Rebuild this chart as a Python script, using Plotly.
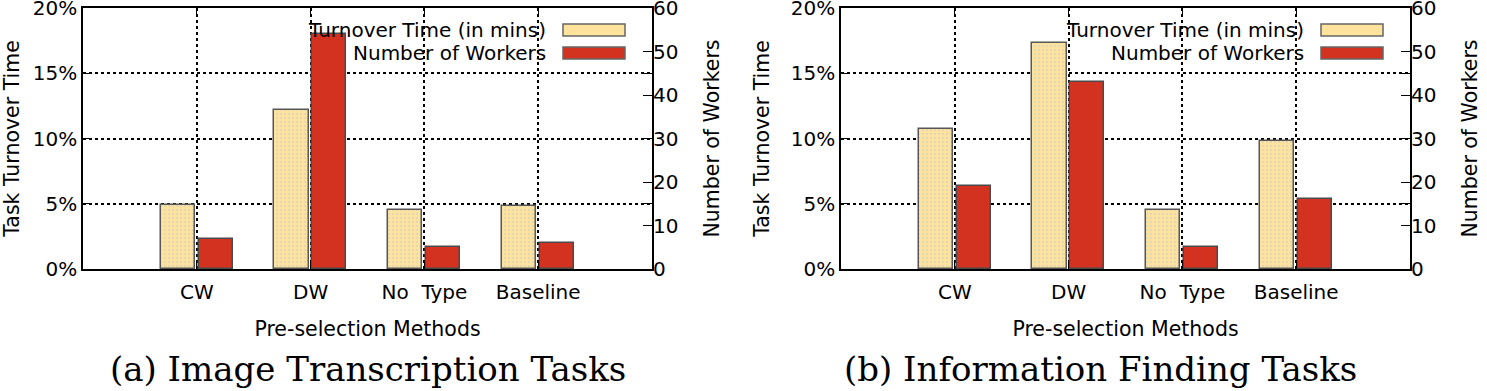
import plotly.graph_objects as go

categories = ["CW", "DW", "No\u00a0\u00a0Type", "Baseline"]
turnover_a = [4.9, 12.2, 4.5, 4.8]     # % (left axis)
workers_a = [7, 54, 5, 6]              # count (right axis)
turnover_b = [10.7, 17.3, 4.5, 9.8]
workers_b = [19, 43, 5, 16]
subtitles = ["(a) Image Transcription Tasks", "(b) Information Finding Tasks"]
series_names = ["Turnover Time (in mins)", "Number of Workers"]

W, H = 1487, 391
YELLOW = "#fde39c"
RED = "#d33221"
EDGE = "#575757"
FONT = "DejaVu Sans"

def px_x(p):
    return p / W

def px_y(p):
    return 1 - p / H

panels = [
    dict(x0=83, x1=652, t=turnover_a, w=workers_a, sub=subtitles[0], subx=368),
    dict(x0=841, x1=1410, t=turnover_b, w=workers_b, sub=subtitles[1], subx=1100),
]
y_top, y_bot = 8, 269

fig = go.Figure()
for i, p in enumerate(panels):
    xa = "x" if i == 0 else "x2"
    ya1 = "y" if i == 0 else "y3"
    ya2 = "y2" if i == 0 else "y4"
    fig.add_trace(go.Bar(
        x=categories, y=p["t"], xaxis=xa, yaxis=ya1, width=0.3, offset=-0.318,
        marker=dict(color=YELLOW, line=dict(color=EDGE, width=1.5),
                    pattern=dict(shape=".", fgcolor="#c9c6d6", size=4, solidity=0.25)),
        name=series_names[0], showlegend=False))
    fig.add_trace(go.Bar(
        x=categories, y=p["w"], xaxis=xa, yaxis=ya2, width=0.3, offset=0.015,
        marker=dict(color=RED, line=dict(color="#4a4a4a", width=1.5)),
        name=series_names[1], showlegend=False))

axis_common = dict(showline=True, linecolor="black", linewidth=1.5,
                   ticks="inside", ticklen=9, tickwidth=1.2, tickcolor="black",
                   tickfont=dict(family=FONT, size=20, color="black"),
                   ticklabeloverflow="allow", zeroline=False, automargin=False)

layout = dict(width=W, height=H, margin=dict(l=0, r=0, t=0, b=0),
              paper_bgcolor="white", plot_bgcolor="white",
              barmode="overlay", bargap=0, font=dict(family=FONT, color="black"))

for i, p in enumerate(panels):
    xk = "xaxis" if i == 0 else "xaxis2"
    y1k = "yaxis" if i == 0 else "yaxis3"
    y2k = "yaxis2" if i == 0 else "yaxis4"
    y1ref = "y" if i == 0 else "y3"
    xref = "x" if i == 0 else "x2"
    layout[xk] = dict(axis_common, domain=[px_x(p["x0"]), px_x(p["x1"])],
                      anchor=y1ref, type="category", range=[-1, 4], mirror="ticks",
                      ticklabelstandoff=4,
                      showgrid=True, gridcolor="black", griddash="dot", gridwidth=1.5,
                      title=dict(text="Pre-selection Methods", standoff=19,
                                 font=dict(family=FONT, size=20.5)))
    layout[y1k] = dict(axis_common, domain=[px_y(y_bot), px_y(y_top)],
                       anchor=xref, range=[0, 20], dtick=5, ticksuffix="%",
                       mirror="ticks", showgrid=True, gridcolor="black",
                       griddash="dot", gridwidth=1.5,
                       title=dict(text="Task Turnover Time", standoff=16,
                                  font=dict(family=FONT, size=20.5)))
    layout[y2k] = dict(axis_common, overlaying=y1ref, anchor=xref, side="right",
                       range=[0, 60], dtick=10, showgrid=False, showline=False,
                       title=dict(text="Number of Workers", standoff=27,
                                  font=dict(family=FONT, size=20.5)))

fig.update_layout(**layout)

annotations = []
shapes = []
for i, p in enumerate(panels):
    annotations.append(dict(text=p["sub"], x=px_x(p["subx"]),
                            y=px_y(369), xref="paper", yref="paper",
                            xanchor="center", yanchor="middle", showarrow=False,
                            font=dict(family="DejaVu Serif", size=34, color="black")))
    for j, (nm, col) in enumerate(zip(series_names, [YELLOW, RED])):
        yc = 30 + j * 23
        annotations.append(dict(text=nm, x=px_x(p["x1"] - 104), y=px_y(yc),
                                xref="paper", yref="paper", xanchor="right",
                                yanchor="middle", showarrow=False,
                                font=dict(family=FONT, size=20, color="black")))
        shapes.append(dict(type="rect", xref="paper", yref="paper",
                           x0=px_x(p["x1"] - 89), x1=px_x(p["x1"] - 27),
                           y0=px_y(yc + 6), y1=px_y(yc - 6),
                           fillcolor=col, line=dict(color="#666666", width=1.5)))
fig.update_layout(annotations=annotations, shapes=shapes)

fig.write_html("out.html", config={"displayModeBar": False},
               post_script="document.body.style.margin='0';document.body.style.overflow='hidden';")
